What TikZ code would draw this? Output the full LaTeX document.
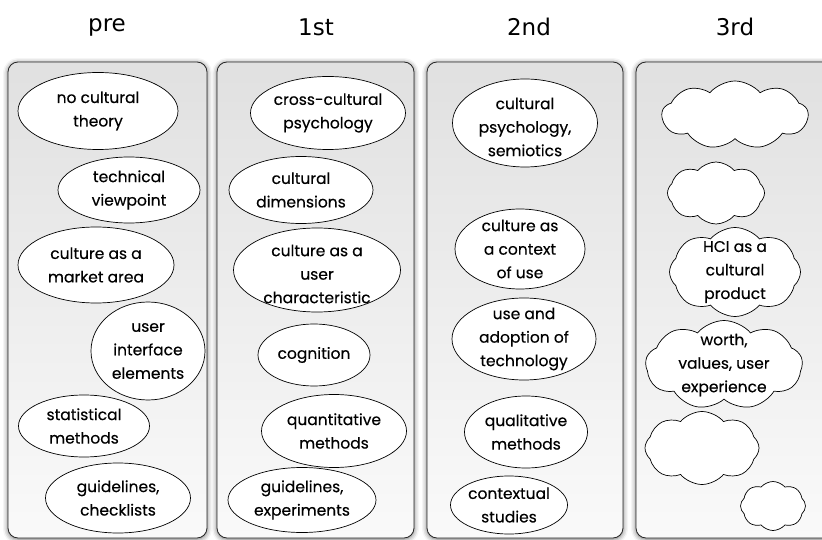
\documentclass[tikz,border=0pt]{standalone}
\usepackage{fontspec}
\setmainfont{Poppins}
\newfontfamily\labelfont{Poppins}[FakeBold=0.35]
\newfontfamily\headfont{DejaVu Sans}
\usetikzlibrary{shapes.geometric,shapes.symbols,shadows.blur}

\begin{document}
\begin{tikzpicture}[x=1pt,y=-1pt,
  panel/.style={draw=black!85, line width=0.8pt, rounded corners=10pt,
    top color=black!12, bottom color=black!2,
    blur shadow={shadow xshift=0pt, shadow yshift=-1pt,
      shadow blur radius=5pt, shadow opacity=60}},
  head/.style={font=\headfont\fontsize{23}{26}\selectfont},
  lbl/.style={font=\labelfont\fontsize{15.5}{23.5}\selectfont, align=center, inner sep=0pt},
  oval/.style={ellipse, draw=black, line width=0.7pt, fill=white, inner sep=0pt},
  puff/.style={cloud, draw=black, line width=0.7pt, fill=white, inner sep=0pt,
    cloud puffs=8, cloud puff arc=100, cloud ignores aspect},
]
\useasboundingbox (0,0) rectangle (822,540);

% column panels
\node[panel, minimum width=199, minimum height=476] (p0) at (107.5,300) {};
\node[panel, minimum width=197, minimum height=476] (p1) at (315.5,300) {};
\node[panel, minimum width=196, minimum height=476] (p2) at (525,300) {};
\node[panel, minimum width=200, minimum height=476] (p3) at (736,300) {};

% column headings
\node[head] (h0) at (107,27) {pre};
\node[head] (h1) at (316,27) {1st};
\node[head] (h2) at (529,27) {2nd};
\node[head] (h3) at (735,27) {3rd};

% pre
\node[oval, minimum width=160, minimum height=77, label={[lbl]center:no cultural\\theory}] (a1) at (98,111) {};
\node[oval, minimum width=142, minimum height=66, label={[lbl]center:technical\\viewpoint}] (a2) at (129,190) {};
\node[oval, minimum width=156, minimum height=76, label={[lbl]center:culture as a\\market area}] (a3) at (96,265) {};
\node[oval, minimum width=114, minimum height=98, label={[lbl]center:user\\interface\\elements}] (a4) at (148,351) {};
\node[oval, minimum width=131, minimum height=62, label={[lbl]center:statistical\\methods}] (a5) at (84,426) {};
\node[oval, minimum width=145, minimum height=70, label={[lbl]center:guidelines,\\checklists}] (a6) at (118,498) {};

% 1st
\node[oval, minimum width=155, minimum height=73, label={[lbl]center:cross-cultural\\psychology}] (b1) at (328,113) {};
\node[oval, minimum width=144, minimum height=67, label={[lbl]center:cultural\\dimensions}] (b2) at (301,190) {};
\node[oval, minimum width=167, minimum height=84, label={[lbl,yshift=-4pt]center:culture as a\\user\\characteristic}] (b3) at (317,270) {};
\node[oval, minimum width=112, minimum height=62, label={[lbl]center:cognition}] (b4) at (314,355) {};
\node[oval, minimum width=145, minimum height=73, label={[lbl]center:quantitative\\methods}] (b5) at (334,431) {};
\node[oval, minimum width=148, minimum height=65, label={[lbl]center:guidelines,\\experiments}] (b6) at (302,500) {};

% 2nd
\node[oval, minimum width=145, minimum height=88, label={[lbl,yshift=-4pt]center:cultural\\psychology,\\semiotics}] (c1) at (525,123) {};
\node[oval, minimum width=130, minimum height=80, label={[lbl]center:culture as\\a context\\of use}] (c2) at (520,249) {};
\node[oval, minimum width=144, minimum height=82, label={[lbl]center:use and\\adoption of\\technology}] (c3) at (524,339) {};
\node[oval, minimum width=123, minimum height=72, label={[lbl]center:qualitative\\methods}] (c4) at (526,432) {};
\node[oval, minimum width=117, minimum height=58, label={[lbl]center:contextual\\studies}] (c5) at (509,505) {};

% 3rd
\node[puff, cloud puffs=9, minimum width=146, minimum height=68] (d1) at (735,115) {};
\node[puff, minimum width=97, minimum height=62] (d2) at (716,193) {};
\node[puff, minimum width=131, minimum height=89, label={[lbl]center:HCI as a\\cultural\\product}] (d3) at (735,272) {};
\node[puff, cloud puffs=9, minimum width=157, minimum height=89, label={[lbl]center:worth,\\values, user\\experience}] (d4) at (724,365) {};
\node[puff, minimum width=114, minimum height=73] (d5) at (702,448) {};
\node[puff, minimum width=65, minimum height=49] (d6) at (773,506) {};
\end{tikzpicture}
\end{document}
